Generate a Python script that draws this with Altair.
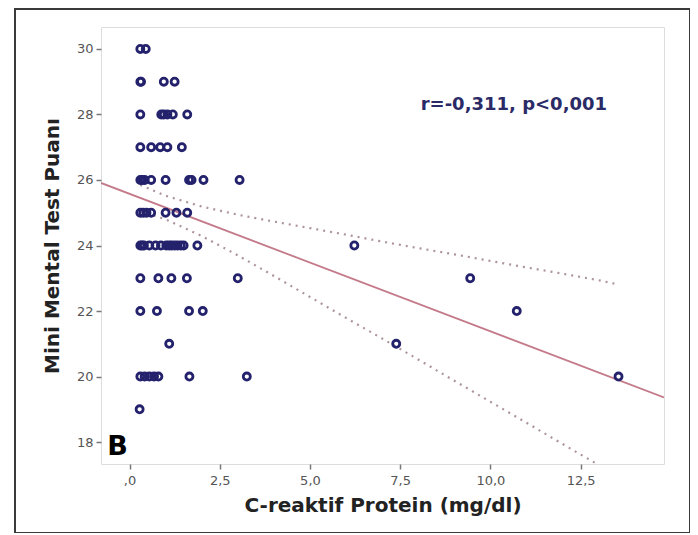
import altair as alt
import pandas as pd

# --- data ---
crp = [0.3, 0.45,
       0.3, 0.32, 0.95, 1.25,
       0.3, 0.88, 0.95, 1.05, 1.2, 1.6,
       0.3, 0.6, 0.85, 1.05, 1.45,
       0.3, 0.35, 0.42, 0.6, 1.0, 1.65, 1.72, 2.05, 3.05,
       0.3, 0.38, 0.47, 0.6, 1.0, 1.3, 1.6,
       0.3, 0.35, 0.4, 0.55, 0.72, 0.87, 1.02, 1.1, 1.17, 1.25, 1.33, 1.42, 1.5, 1.88, 6.23,
       0.3, 0.8, 1.16, 1.59, 3.0, 9.44,
       0.3, 0.76, 1.65, 2.03, 10.73,
       1.1, 7.39,
       0.3, 0.42, 0.55, 0.68, 0.8, 1.66, 3.25, 13.55,
       0.28]
mmse = [30, 30,
        29, 29, 29, 29,
        28, 28, 28, 28, 28, 28,
        27, 27, 27, 27, 27,
        26, 26, 26, 26, 26, 26, 26, 26, 26,
        25, 25, 25, 25, 25, 25, 25,
        24, 24, 24, 24, 24, 24, 24, 24, 24, 24, 24, 24, 24, 24, 24,
        23, 23, 23, 23, 23, 23,
        22, 22, 22, 22, 22,
        21, 21,
        20, 20, 20, 20, 20, 20, 20, 20,
        19]

fit_x = [-0.79, 14.81]
fit_y = [25.91, 19.36]

ci_x = [0.3, 1.0, 2.0, 3.0, 4.0, 5.0, 6.0, 7.0, 8.0, 9.0, 10.0, 11.0, 12.0, 13.0, 13.5]
ci_upper = [25.85, 25.52, 25.19, 24.94, 24.73, 24.53, 24.33, 24.12, 23.92, 23.73, 23.53, 23.33, 23.14, 22.94, 22.82]
ci_lower = [25.05, 24.80, 24.29, 23.70, 23.07, 22.43, 21.79, 21.16, 20.52, 19.87, 19.23, 18.59, 17.94, 17.30, 16.96]

x_ticks = [0, 2.5, 5, 7.5, 10, 12.5]
y_ticks = [18, 20, 22, 24, 26, 28, 30]

annotation = "r=-0,311, p<0,001"
panel_label = "B"

X_DOM = [-0.79, 14.81]
Y_DOM = [17.33, 30.67]

pts = pd.DataFrame({"x": crp, "y": mmse})
fit = pd.DataFrame({"x": fit_x, "y": fit_y})
ci = pd.DataFrame({"x": ci_x * 2,
                   "y": ci_upper + ci_lower,
                   "band": ["upper"] * len(ci_x) + ["lower"] * len(ci_x)})

xs = alt.Scale(domain=X_DOM, nice=False, zero=False)
ys = alt.Scale(domain=Y_DOM, nice=False, zero=False)

label_expr = "datum.value == 0 ? ',0' : replace(format(datum.value, '.1f'), '.', ',')"

xaxis = alt.Axis(values=x_ticks, labelExpr=label_expr, title="C-reaktif Protein (mg/dl)",
                 grid=False, domain=False, tickColor="#777", tickSize=5, tickWidth=1.5,
                 labelColor="#555", labelFontSize=13, labelFont="DejaVu Sans",
                 labelPadding=5, titleFont="DejaVu Sans", titleFontSize=20,
                 titleFontWeight="bold", titleColor="#222", titlePadding=8)
yaxis = alt.Axis(values=y_ticks, title="Mini Mental Test Puanı",
                 grid=False, domain=False, tickColor="#777", tickSize=5, tickWidth=1.5,
                 labelColor="#555", labelFontSize=13, labelFont="DejaVu Sans",
                 labelPadding=3, titleFont="DejaVu Sans", titleFontSize=20,
                 titleFontWeight="bold", titleColor="#222", titlePadding=14)

base_pts = alt.Chart(pts).mark_point(
    filled=False, size=50, strokeWidth=2.8, color="#24226c", opacity=1
).encode(
    x=alt.X("x:Q", scale=xs, axis=xaxis),
    y=alt.Y("y:Q", scale=ys, axis=yaxis),
)

fit_line = alt.Chart(fit).mark_line(color="#c47a8a", strokeWidth=1.8, clip=True).encode(
    x=alt.X("x:Q", scale=xs), y=alt.Y("y:Q", scale=ys)
)

ci_lines = alt.Chart(ci).mark_line(
    color="#ad939c", strokeWidth=2.2, strokeDash=[2, 5], clip=True
).encode(
    x=alt.X("x:Q", scale=xs), y=alt.Y("y:Q", scale=ys), detail="band:N"
)

ann = alt.Chart(pd.DataFrame({"x": [10.65], "y": [28.3], "t": [annotation]})).mark_text(
    font="DejaVu Sans", fontSize=18, fontWeight="bold", color="#2a2a66",
    align="center", baseline="middle"
).encode(x=alt.X("x:Q", scale=xs), y=alt.Y("y:Q", scale=ys), text="t:N")

blabel = alt.Chart(pd.DataFrame({"x": [-0.62], "y": [17.6], "t": [panel_label]})).mark_text(
    font="DejaVu Sans", fontSize=27, fontWeight="bold", color="#000",
    align="left", baseline="alphabetic"
).encode(x=alt.X("x:Q", scale=xs), y=alt.Y("y:Q", scale=ys), text="t:N")

frame = alt.Chart(pd.DataFrame({"k": [1]})).mark_rect(
    fill="transparent", stroke="#3a3a3a", strokeWidth=2
).encode(
    x=alt.value(-86), x2=alt.value(589), y=alt.value(-18), y2=alt.value(506)
)

chart = alt.layer(frame, ci_lines, fit_line, base_pts, ann, blabel).properties(
    width=563, height=437,
    autosize=alt.AutoSizeParams(type="none"),
    padding={"left": 93, "top": 19, "right": 26, "bottom": 69},
).configure_view(
    stroke="#858585", strokeWidth=2
).configure(background="white")

chart.save("out.html", embed_options={"renderer": "svg", "actions": False})
